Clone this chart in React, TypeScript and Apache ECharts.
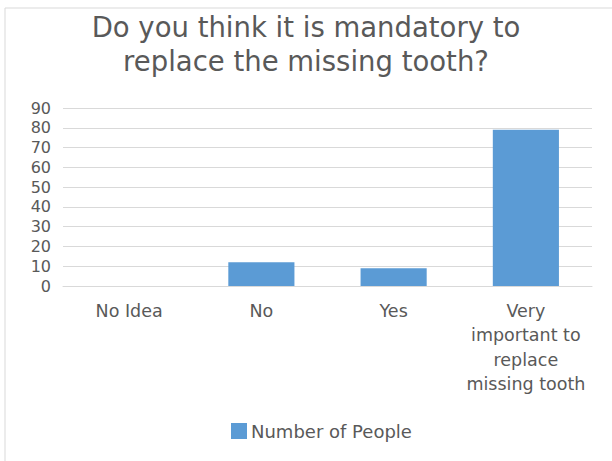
import React, { useEffect, useRef } from "react";
import * as echarts from "echarts";

const categories = ["No Idea", "No", "Yes", "Very\nimportant to\nreplace\nmissing tooth"];
const numberOfPeople = [0, 12, 9, 79];
const seriesName = "Number of People";
const titleText = "Do you think it is mandatory to\nreplace the missing tooth?";

export default function App() {
  const ref = useRef<HTMLDivElement>(null);
  useEffect(() => {
    document.body.style.margin = "0";
    const chart = echarts.init(ref.current!, null, { renderer: "svg" });
    const font = "'DejaVu Sans', sans-serif";
    chart.setOption({
      animation: false,
      backgroundColor: "#ffffff",
      title: {
        text: titleText,
        left: "center",
        top: 5,
        textStyle: {
          fontFamily: font,
          fontSize: 27.5,
          fontWeight: "normal",
          color: "#595959",
          lineHeight: 34,
        },
      },
      graphic: [
        {
          type: "rect",
          shape: { x: 5, y: 8, width: 700, height: 600 },
          style: { fill: "none", stroke: "#d9d9d9", lineWidth: 1 },
          silent: true,
        },
      ],
      legend: {
        bottom: 16,
        left: 226,
        itemWidth: 16,
        itemHeight: 16,
        itemGap: 4,
        textStyle: { fontFamily: font, fontSize: 18, color: "#595959", padding: [0, 0, 0, -1] },
        data: [{ name: seriesName, icon: "rect" }],
      },
      grid: { left: 63, right: 20, top: 108, bottom: 175, containLabel: false },
      xAxis: {
        type: "category",
        data: categories,
        axisLine: { show: true, lineStyle: { color: "#d9d9d9" } },
        axisTick: { show: false },
        axisLabel: {
          fontFamily: font,
          fontSize: 17.5,
          color: "#595959",
          lineHeight: 24.3,
          margin: 13,
          interval: 0,
        },
      },
      yAxis: {
        type: "value",
        min: 0,
        max: 90,
        interval: 10,
        axisLine: { show: false },
        axisTick: { show: false },
        splitLine: { lineStyle: { color: "#d9d9d9", width: 1 } },
        axisLabel: { fontFamily: font, fontSize: 16, lineHeight: 18, color: "#595959", margin: 12 },
      },
      series: [
        {
          name: seriesName,
          type: "bar",
          data: numberOfPeople,
          barWidth: "50%",
          itemStyle: { color: "#5b9bd5" },
        },
      ],
    });
    return () => chart.dispose();
  }, []);
  return <div ref={ref} style={{ width: 612, height: 461 }} />;
}
